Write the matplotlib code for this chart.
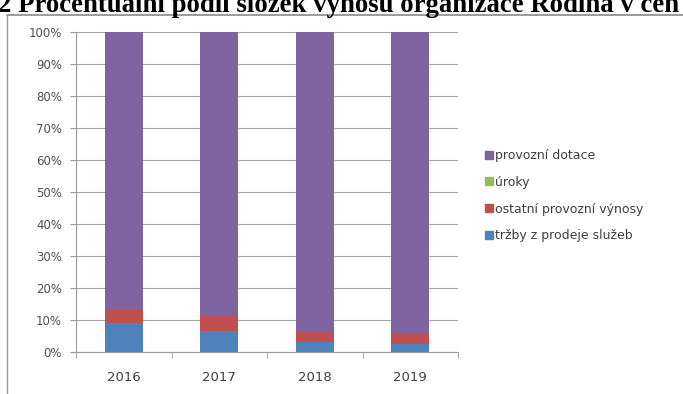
import matplotlib
matplotlib.use("Agg")
import matplotlib.pyplot as plt
from matplotlib.ticker import FixedLocator, PercentFormatter
from matplotlib.lines import Line2D

years = ["2016", "2017", "2018", "2019"]
trzby = [9.0, 6.5, 3.0, 2.5]
ostatni = [4.0, 5.0, 3.5, 3.5]
uroky = [0.0, 0.0, 0.0, 0.0]
dotace = [100 - a - b - c for a, b, c in zip(trzby, ostatni, uroky)]

series = [
    ("tržby z prodeje služeb", trzby, "#4F81BD"),
    ("ostatní provozní výnosy", ostatni, "#C0504D"),
    ("úroky", uroky, "#9BBB59"),
    ("provozní dotace", dotace, "#8064A2"),
]

fig = plt.figure(figsize=(6.83, 3.94), dpi=100)
ax = fig.add_axes([76 / 683, 1 - 352 / 394, (458 - 76) / 683, (352 - 32) / 394])

x = range(len(years))
bottom = [0.0] * len(years)
handles = []
for name, vals, col in series:
    ax.bar(x, vals, bottom=bottom, width=0.4, color=col, zorder=3)
    bottom = [b + v for b, v in zip(bottom, vals)]
    handles.append(Line2D([], [], marker="s", linestyle="none", markersize=6,
                          markerfacecolor=col, markeredgecolor=col, label=name))

ax.set_xlim(-0.5, len(years) - 0.5)
ax.set_ylim(0, 100)
ax.set_yticks(range(0, 101, 10))
ax.yaxis.set_major_formatter(PercentFormatter(decimals=0))
ax.set_xticks(list(x))
ax.set_xticklabels(years)
ax.xaxis.set_minor_locator(FixedLocator([i - 0.5 for i in range(len(years) + 1)]))
ax.tick_params(axis="x", which="major", length=0, pad=14, labelsize=9.5, labelcolor="#404040")
ax.tick_params(axis="x", which="minor", length=4, color="#9a9a9a", direction="out")
ax.tick_params(axis="y", length=4, color="#9a9a9a", labelsize=8.5, labelcolor="#505050", pad=6)
ax.grid(axis="y", color="#a6a6a6", linewidth=0.8, zorder=0)
for s in ["top", "right"]:
    ax.spines[s].set_visible(False)
for s in ["left", "bottom"]:
    ax.spines[s].set_color("#9a9a9a")

leg = fig.legend(handles=handles[::-1], loc="upper left", bbox_to_anchor=(479 / 683, 1 - 144 / 394),
                 frameon=False, fontsize=9, labelspacing=1.1, handletextpad=0.1,
                 handlelength=0.8, borderaxespad=0)
for t in leg.get_texts():
    t.set_color("#404040")

# chart frame (top and left edge visible in the crop)
fig.add_artist(Line2D([7 / 683, 1], [1 - 14.5 / 394, 1 - 14.5 / 394], color="#8a8a8a", linewidth=1.2))
fig.add_artist(Line2D([7 / 683, 7 / 683], [0, 1 - 14.5 / 394], color="#9a9a9a", linewidth=1))

fig.text(-0.003, 1 - 12.5 / 394, "2 Procentuální podíl složek výnosů organizace Rodina v cen",
         fontsize=19.3, fontweight="bold", family="Liberation Serif", va="baseline", ha="left")

fig.savefig("out.png", dpi=100)
